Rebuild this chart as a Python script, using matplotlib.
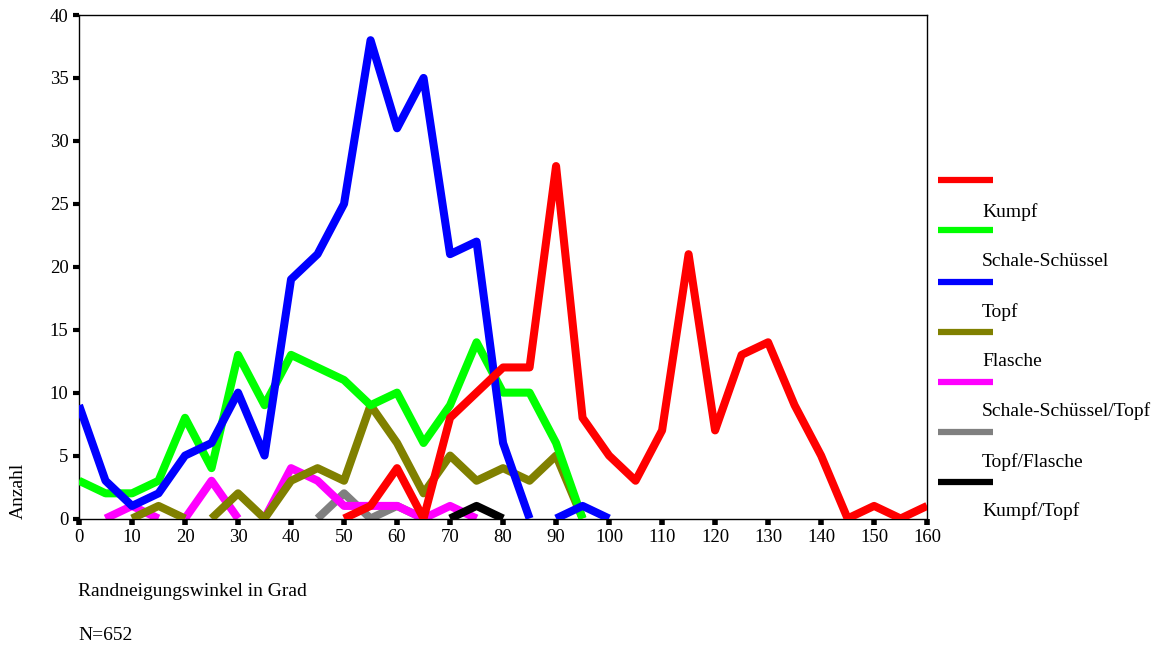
import numpy as np
import matplotlib
matplotlib.use('Agg')
import matplotlib.pyplot as plt
from matplotlib.lines import Line2D

plt.rcParams['font.family'] = ['Liberation Serif', 'DejaVu Serif']

# Randneigungswinkel (Grad), Schritte von 5
winkel = np.arange(0, 161, 5)

kumpf = [0, 0, 0, 0, 0, 0, 0, 0, 0, 0, 0, 1, 4, 0, 8, 10, 12,
         12, 28, 8, 5, 3, 7, 21, 7, 13, 14, 9, 5, 0, 1, 0, 1]
schale_schuessel = [3, 2, 2, 3, 8, 4, 13, 9, 13, 12, 11, 9, 10, 6, 9, 14, 10,
                    10, 6, 0, 0, 0, 0, 0, 0, 0, 0, 0, 0, 0, 0, 0, 0]
topf = [9, 3, 1, 2, 5, 6, 10, 5, 19, 21, 25, 38, 31, 35, 21, 22, 6,
        0, 0, 1, 0, 0, 0, 0, 0, 0, 0, 0, 0, 0, 0, 0, 0]
flasche = [0, 0, 0, 1, 0, 0, 2, 0, 3, 4, 3, 9, 6, 2, 5, 3, 4,
           3, 5, 0, 0, 0, 0, 0, 0, 0, 0, 0, 0, 0, 0, 0, 0]
schale_topf = [0, 0, 1, 0, 0, 3, 0, 0, 4, 3, 1, 1, 1, 0, 1, 0, 0,
               0, 0, 0, 0, 0, 0, 0, 0, 0, 0, 0, 0, 0, 0, 0, 0]
topf_flasche = [0, 0, 0, 0, 0, 0, 0, 0, 0, 0, 2, 0, 1, 0, 0, 0, 0,
                0, 0, 0, 0, 0, 0, 0, 0, 0, 0, 0, 0, 0, 0, 0, 0]
kumpf_topf = [0, 0, 0, 0, 0, 0, 0, 0, 0, 0, 0, 0, 0, 0, 0, 1, 0,
              0, 0, 0, 0, 0, 0, 0, 0, 0, 0, 0, 0, 0, 0, 0, 0]

namen = ['Kumpf', 'Schale-Schüssel', 'Topf', 'Flasche',
         'Schale-Schüssel/Topf', 'Topf/Flasche', 'Kumpf/Topf']
serien = [kumpf, schale_schuessel, topf, flasche, schale_topf, topf_flasche, kumpf_topf]
farben = ['#ff0000', '#00ff00', '#0000ff', '#808000', '#ff00ff', '#808080', '#000000']
zorders = [7, 5, 6, 4, 2, 1, 3]


def runs(x, y):
    # flat segments at zero are not drawn in the original chart
    y = np.asarray(y, dtype=float)
    out, cur = [], []
    for i in range(len(y) - 1):
        if y[i] == 0 and y[i + 1] == 0:
            if cur:
                out.append(cur)
                cur = []
            continue
        if not cur:
            cur = [i]
        cur.append(i + 1)
    if cur:
        out.append(cur)
    return [(x[idx], y[idx]) for idx in out]


fig = plt.figure(figsize=(11.57, 6.47), dpi=100)
ax = fig.add_axes([0.0683, 0.1986, 0.7330, 0.7782])

for werte, farbe, z in zip(serien, farben, zorders):
    for xs, ys in runs(winkel, werte):
        ax.plot(xs, ys, color=farbe, lw=5.8, zorder=z,
                solid_joinstyle='round', solid_capstyle='butt')

ax.set_xlim(0, 160)
ax.set_ylim(0, 40)
ax.set_xticks(np.arange(0, 161, 10))
ax.set_yticks(np.arange(0, 41, 5))
for s in ax.spines.values():
    s.set_linewidth(1.0)
    s.set_color('black')
ax.tick_params(axis='x', direction='out', length=4.5, width=4, labelsize=13.5, pad=3)
ax.tick_params(axis='y', direction='out', length=4.5, width=3, labelsize=13.5, pad=3)

# Legende wie im Original (Beschriftung jeweils unter der Linie)
leg_y = [180, 230, 282, 332, 382, 432, 482]
txt_y = [212, 261, 312, 362, 411, 462, 511]
W, H = 1157.0, 647.0
for name, farbe, ly, ty in zip(namen, farben, leg_y, txt_y):
    fig.add_artist(Line2D([938 / W, 993 / W], [1 - ly / H, 1 - ly / H],
                          color=farbe, lw=4.5, solid_capstyle='butt'))
    fig.text(982 / W, 1 - ty / H, name, fontsize=14, va='center', ha='left')

fig.text(18 / W, 1 - 519 / H, 'Anzahl', rotation=90, fontsize=14, va='bottom', ha='center')
fig.text(78 / W, 1 - 592 / H, 'Randneigungswinkel in Grad', fontsize=14, va='center', ha='left')
fig.text(78 / W, 1 - 635 / H, 'N=652', fontsize=14, va='center', ha='left')

fig.savefig('out.png', dpi=100)
